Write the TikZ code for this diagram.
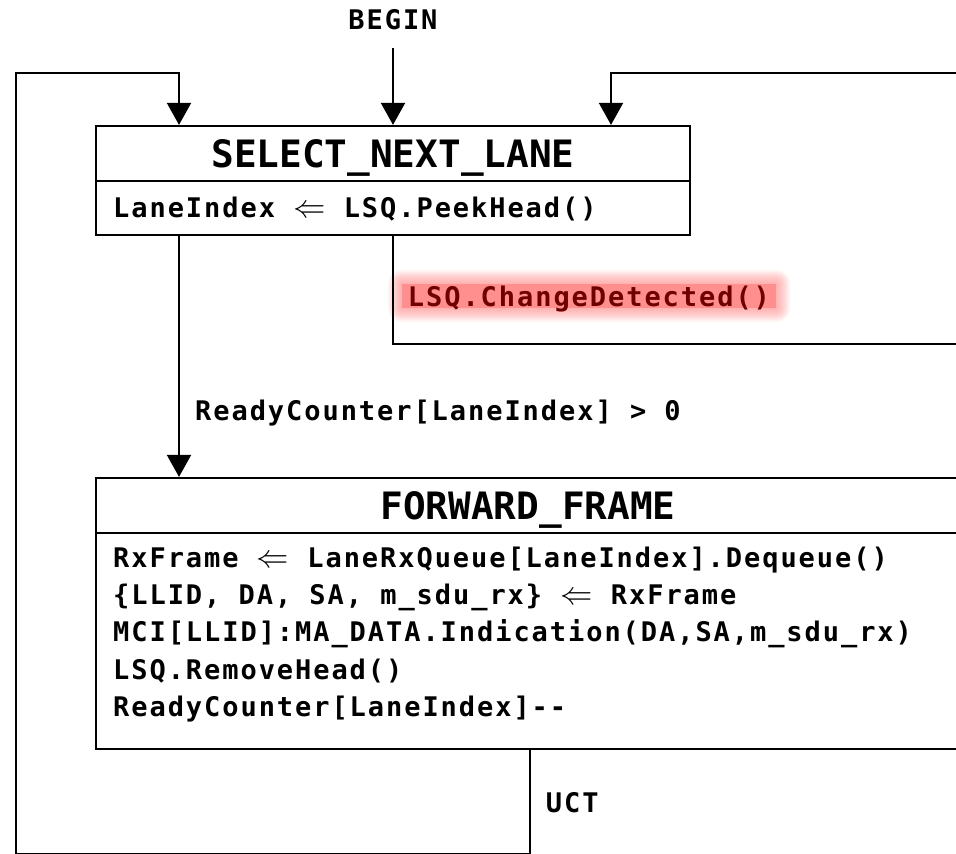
\documentclass[tikz,border=0pt]{standalone}
\usepackage{fontspec}
\usepackage{graphicx}
\usetikzlibrary{arrows.meta,calc,backgrounds}
% monospaced faces: tracked one for code lines and labels, plain one for state titles
\newfontfamily\diagmono[LetterSpace=7.2]{DejaVu Sans Mono}
\newfontfamily\diagtitle{DejaVu Sans Mono}
\definecolor{hlfill}{RGB}{255,142,142}
\definecolor{hlglow}{RGB}{255,120,120}
\definecolor{hltext}{RGB}{110,0,0}
% assignment arrow used in the state actions
\newcommand{\assignarrow}{\scalebox{1.3}{\ensuremath{\Leftarrow}}}

\begin{document}
\begin{tikzpicture}[x=1pt,y=-1pt,
  titlecell/.style={draw, line width=2.2pt, inner sep=0pt,
    font=\diagtitle\bfseries\fontsize{37.7pt}{40pt}\selectfont,
    text height=27.5pt, text depth=0pt},
  bodycell/.style={draw, line width=2.2pt, inner sep=0pt},
  code/.style={font=\diagmono\bfseries\fontsize{27pt}{32pt}\selectfont,
    inner sep=0pt, anchor=base west},
  flow/.style={line width=1.9pt, -{Triangle[width=24pt,length=22pt]}},
  highlight/.style={fill=hlfill, text=hltext, inner sep=0pt,
    text height=21.4pt, text depth=0pt}
]
\useasboundingbox (0,0) rectangle (956,854);

% state SELECT_NEXT_LANE
\node[titlecell, minimum width=594pt, minimum height=55pt] (selT) at (393,153.5) {SELECT\_NEXT\_LANE};
\node[bodycell, minimum width=594pt, minimum height=54pt] (selB) at (393,208) {};
\node[code] (selcode) at (113,217) {LaneIndex \assignarrow{} LSQ.PeekHead()};

% state FORWARD_FRAME
\node[titlecell, minimum width=864pt, minimum height=55pt] (fwdT) at (528,505.5) {FORWARD\_FRAME};
\node[bodycell, minimum width=864pt, minimum height=216pt] (fwdB) at (528,641) {};
\node[code] (fw1) at (113,567) {RxFrame \assignarrow{} LaneRxQueue[LaneIndex].Dequeue()};
\node[code] (fw2) at (113,604) {\{LLID, DA, SA, m\_sdu\_rx\} \assignarrow{} RxFrame};
\node[code] (fw3) at (113,641) {MCI[LLID]:MA\_DATA.Indication(DA,SA,m\_sdu\_rx)};
\node[code] (fw4) at (113,679) {LSQ.RemoveHead()};
\node[code] (fw5) at (113,716) {ReadyCounter[LaneIndex]-{}-};

% entry point
\node[code, anchor=base] (begin) at (393,29.3) {BEGIN};
\draw[flow, shorten <=17.7pt] (begin.south -| selT.north) -- (selT.north);

% SELECT_NEXT_LANE -> FORWARD_FRAME
\coordinate (laneA) at (179,0);
\draw[flow] (selB.south -| laneA) -- (fwdT.north -| laneA);
\node[code] (ready) at (195,420) {ReadyCounter[LaneIndex] > 0};

% SELECT_NEXT_LANE -> SELECT_NEXT_LANE on change
\node[highlight, font=\diagmono\bfseries\fontsize{27pt}{32pt}\selectfont,
  minimum width=374pt, minimum height=24pt] (cd) at (589,296) {LSQ.ChangeDetected()};
\coordinate (cdrow) at (0,344);
\coordinate (rightrail) at (972,72.7);
\coordinate (laneC) at (611,0);
\draw[flow] (selB.south) -- (selB.south |- cdrow) -| (rightrail) -| (selT.north -| laneC);

% FORWARD_FRAME -> SELECT_NEXT_LANE unconditionally
\coordinate (uctfoot) at (530,853.5);
\coordinate (leftrail) at (16,72.7);
\draw[flow] (fwdB.south -| uctfoot) -- (uctfoot) -| (leftrail) -| (selT.north -| laneA);
\node[code] (uct) at (545.7,812) {UCT};

% page background and the soft glow behind the highlighted condition
\begin{scope}[on background layer]
  \fill[white] (0,0) rectangle (956,854);
  \foreach \k in {1,...,14}
    \fill[hlglow, opacity=0.05, rounded corners=\k pt]
      ($(cd.south west)+(-\k,\k)$) rectangle ($(cd.north east)+(\k,-\k)$);
\end{scope}
\end{tikzpicture}
\end{document}
